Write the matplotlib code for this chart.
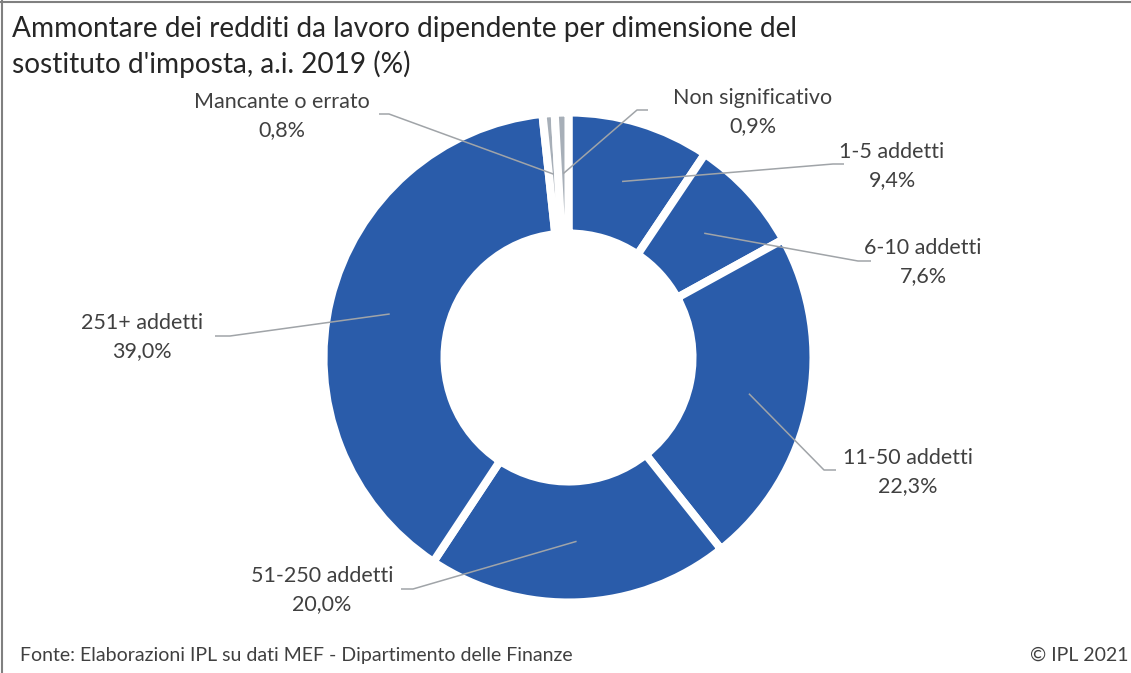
import numpy as np
import matplotlib.pyplot as plt
from matplotlib.lines import Line2D

plt.rcParams['font.family'] = ['Lato', 'DejaVu Sans']

# data
categories = ['1-5 addetti', '6-10 addetti', '11-50 addetti', '51-250 addetti',
              '251+ addetti', 'Mancante o errato', 'Non significativo']
values = [9.4, 7.6, 22.3, 20.0, 39.0, 0.8, 0.9]
value_labels = ['9,4%', '7,6%', '22,3%', '20,0%', '39,0%', '0,8%', '0,9%']

BLUE = '#2A5CAA'
GREY = '#A7AFB8'
colors = [BLUE] * 5 + [GREY] * 2

# layout (pixel coords, y down)
W, H = 1131, 673
center = (568.5, 357.5)
label_pos = [(892, 166), (923, 262), (908, 472), (322, 590),
             (142, 337), (282, 116), (753, 112)]
elbows = [((833, 164), (844, 164)), ((858, 261), (871, 261)),
          ((824, 470), (836, 470)), ((413, 589), (401, 589)),
          ((230, 336), (215, 336)), ((389, 114), (379, 114)),
          ((637, 110), (648, 110))]

fig = plt.figure(figsize=(W / 100, H / 100), dpi=100)
ax = fig.add_axes([0, 0, 1, 1])

wedges, _ = ax.pie(values, colors=colors, startangle=-90, counterclock=True,
                   radius=245, center=center,
                   wedgeprops=dict(width=121, edgecolor='white', linewidth=5.8))
ax.set_xlim(0, W)
ax.set_ylim(H, 0)
ax.set_aspect('auto')
ax.axis('off')

# leader lines + labels
r_mid = 184
for w, cat, val, (lx, ly), (e1, e2) in zip(wedges, categories, value_labels, label_pos, elbows):
    th = np.deg2rad((w.theta1 + w.theta2) / 2)
    ax_pt = (center[0] + r_mid * np.cos(th), center[1] + r_mid * np.sin(th))
    ax.plot([ax_pt[0], e1[0], e2[0]], [ax_pt[1], e1[1], e2[1]],
            color='#A0A4A8', lw=1.1, solid_capstyle='butt')
    ax.text(lx, ly, f'{cat}\n{val}', ha='center', va='center', fontsize=15.5,
            color='#404040', linespacing=1.55)

# title and footer
fig.text(12 / W, 1 - 29 / H, 'Ammontare dei redditi da lavoro dipendente per dimensione del',
         fontsize=20.2, color='#262626', va='center', ha='left')
fig.text(12 / W, 1 - 64 / H, "sostituto d'imposta, a.i. 2019 (%)",
         fontsize=20.2, color='#262626', va='center', ha='left')
fig.text(20 / W, 1 - 655 / H, 'Fonte: Elaborazioni IPL su dati MEF - Dipartimento delle Finanze',
         fontsize=14, color='#404040', va='center', ha='left')
fig.text(1128 / W, 1 - 655 / H, '\u00a9 IPL 2021',
         fontsize=14, color='#404040', va='center', ha='right')

# frame lines (top and left)
fig.add_artist(Line2D([0, 1], [1 - 2 / H, 1 - 2 / H], color='#808080', lw=1.5))
fig.add_artist(Line2D([2 / W, 2 / W], [0, 1], color='#808080', lw=1.5))

fig.savefig('out.png', dpi=100)
